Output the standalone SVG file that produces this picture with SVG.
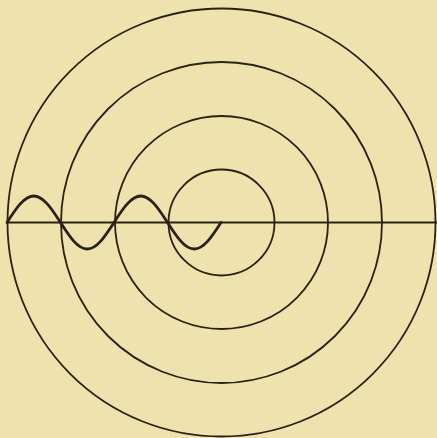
<svg xmlns="http://www.w3.org/2000/svg" width="437" height="438" viewBox="0 0 437 438">
<style>
.c{fill:none;stroke:#2b2114;stroke-width:1.8}
.w{fill:none;stroke:#2b2114;stroke-width:2.8;stroke-linecap:round}
</style>
<rect width="437" height="438" fill="#F0E2AD"/>
<g id="circles">
<circle class="c" cx="221.5" cy="222.5" r="53"/>
<circle class="c" cx="221.5" cy="222.5" r="106.5"/>
<circle class="c" cx="221.5" cy="222.5" r="160.5"/>
<circle class="c" cx="221.5" cy="222.5" r="214"/>
</g>
<g id="axis">
<line class="c" x1="7" y1="222.5" x2="437" y2="222.5" style="stroke-width:2.2"/>
</g>
<g id="wave">
<path class="w" d="M7,222.5 c8.72,-13.58 17.07,-26.5 26.75,-26.5 c9.68,0 18.03,12.92 26.75,26.5 c8.72,13.58 17.07,26.5 26.75,26.5 c9.68,0 18.03,-12.92 26.75,-26.5 c8.72,-13.58 17.07,-26.5 26.75,-26.5 c9.68,0 18.03,12.92 26.75,26.5 c8.72,13.58 17.07,26.5 26.75,26.5 c9.68,0 18.03,-12.92 26.75,-26.5"/>
</g>
</svg>
